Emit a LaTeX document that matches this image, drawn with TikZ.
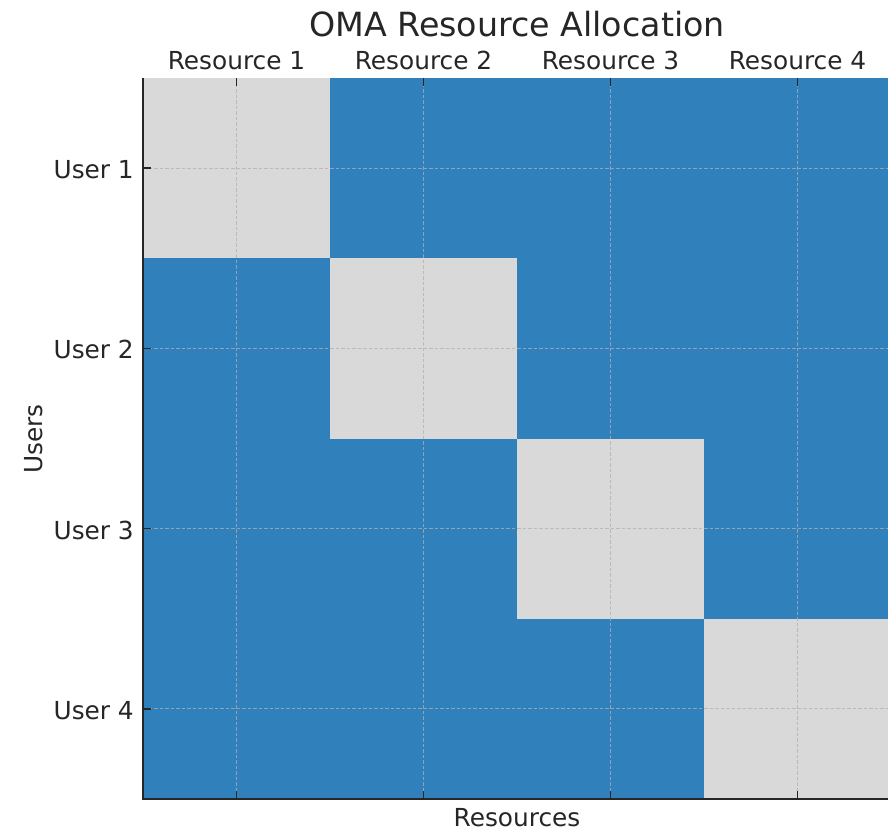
\documentclass[tikz,border=0pt]{standalone}
\usepackage{fontspec}
\setmainfont{DejaVu Sans}
\definecolor{cellblue}{HTML}{3080BC}
\definecolor{cellgray}{HTML}{D9D9D9}
\definecolor{inkdark}{HTML}{262626}
\definecolor{gridgray}{HTML}{B0B0B0}
\tikzset{
  lbl/.style={font=\fontsize{24.8}{28}\selectfont, text=inkdark, inner sep=0pt},
  ttl/.style={font=\fontsize{33.3}{38}\selectfont, text=inkdark, inner sep=0pt},
  gridline/.style={draw=gridgray, opacity=0.75, line width=0.9pt, dash pattern=on 3.5pt off 2pt},
  spine/.style={draw=inkdark, line width=1.6pt},
  tickmark/.style={draw=inkdark, line width=1.4pt}
}
\begin{document}
\begin{tikzpicture}[x=1pt,y=-1pt]
\useasboundingbox (0,0) rectangle (888,835);
% axis geometry
\def\xl{143}\def\cw{187}
\def\yt{78}\def\rh{180.25}
% allocation cells: each user owns one resource
\foreach \r in {0,...,3}{
  \foreach \c in {0,...,3}{
    \ifnum\r=\c
      \fill[cellgray] ({\xl+\c*\cw},{\yt+\r*\rh}) rectangle ({\xl+(\c+1)*\cw},{\yt+(\r+1)*\rh});
    \else
      \fill[cellblue] ({\xl+\c*\cw},{\yt+\r*\rh}) rectangle ({\xl+(\c+1)*\cw},{\yt+(\r+1)*\rh});
    \fi
  }
}
% dashed grid at tick positions
\foreach \i in {0,...,3}{
  \draw[gridline] ({\xl+(\i+0.5)*\cw},\yt) -- ({\xl+(\i+0.5)*\cw},{\yt+4*\rh});
  \draw[gridline] (\xl,{\yt+(\i+0.5)*\rh}) -- (888,{\yt+(\i+0.5)*\rh});
}
% inward ticks
\foreach \i in {0,...,3}{
  \draw[tickmark] ({\xl+(\i+0.5)*\cw},\yt) -- ++(0,8);
  \draw[tickmark] ({\xl+(\i+0.5)*\cw},{\yt+4*\rh}) -- ++(0,-8);
  \draw[tickmark] (\xl,{\yt+(\i+0.5)*\rh}) -- ++(8,0);
}
% spines
\draw[spine] (\xl,\yt) -- (\xl,{\yt+4*\rh}) -- (888,{\yt+4*\rh});
% column labels
\foreach \i in {1,...,4}{
  \node[lbl, anchor=base] (res\i) at ({\xl+(\i-0.5)*\cw},69) {Resource \i};
}
% row labels
\foreach \i in {1,...,4}{
  \node[lbl, anchor=base east] (usr\i) at (134,{\yt+(\i-0.5)*\rh+10.5}) {User \i};
}
% titles
\node[ttl, anchor=base] (title) at (517,36) {OMA Resource Allocation};
\node[lbl, anchor=base] (xlabel) at (517,826) {Resources};
\node[lbl, anchor=base, rotate=90] (ylabel) at (42,439) {Users};
\end{tikzpicture}
\end{document}
